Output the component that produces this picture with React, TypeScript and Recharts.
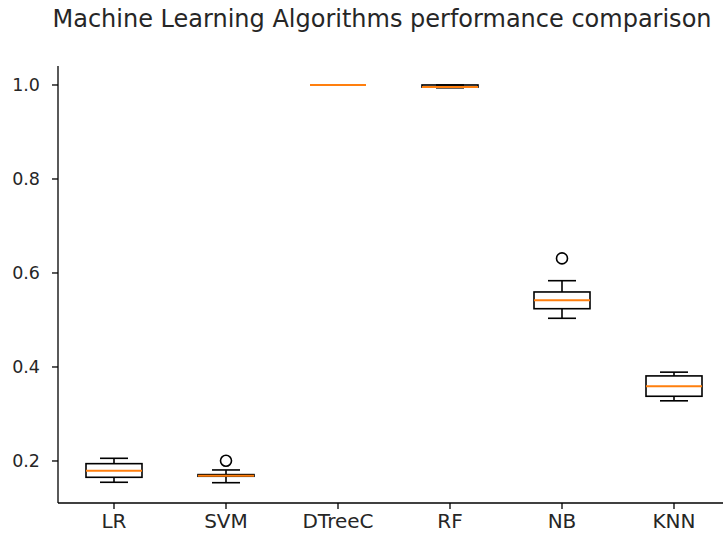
import React from "react"
import { ComposedChart, Bar, Scatter, XAxis, YAxis } from "recharts"

// box stats per algorithm
const algorithms = ["LR", "SVM", "DTreeC", "RF", "NB", "KNN"]
const whiskerLow = [0.1547, 0.1538, 1.0, 0.994, 0.5036, 0.328]
const quartile1 = [0.1653, 0.1675, 1.0, 0.9955, 0.524, 0.3377]
const medians = [0.1794, 0.1685, 1.0, 0.9955, 0.542, 0.359]
const quartile3 = [0.1943, 0.171, 1.0, 1.0, 0.5596, 0.381]
const whiskerHigh = [0.2057, 0.1809, 1.0, 1.0, 0.5836, 0.389]

const outlierNames = ["SVM", "NB"]
const outlierValues = [0.2006, 0.631]

const yTicks = [0.2, 0.4, 0.6, 0.8, 1.0]
const yDomain = [0.1106, 1.0404]

const title = "Machine Learning Algorithms performance comparison"

const data = algorithms.map((name, i) => ({
  name,
  wLow: whiskerLow[i],
  q1: quartile1[i],
  median: medians[i],
  q3: quartile3[i],
  wHigh: whiskerHigh[i],
  whisker: [whiskerLow[i], whiskerHigh[i]],
  box: [quartile1[i], quartile3[i]],
}))

const outliers = outlierNames.map((name, i) => ({ name, value: outlierValues[i] }))

const FONT = "'DejaVu Sans', sans-serif"
const LINE = "#000"
const ORANGE = "#ff7f0e"

const WhiskerShape = (props: any) => {
  const { x, y, width, height } = props
  const cx = x + width / 2
  const top = Math.min(y, y + height)
  const bottom = Math.max(y, y + height)
  return <line x1={cx} x2={cx} y1={top} y2={bottom} stroke={LINE} strokeWidth={1.6} />
}

const BoxShape = (props: any) => {
  const { x, y, width, height } = props
  const top = Math.min(y, y + height)
  const h = Math.abs(height)
  return <rect x={x} y={top} width={width} height={h} fill="#fff" stroke={LINE} strokeWidth={1.6} />
}

const CapShape = (props: any) => {
  const { cx, cy } = props
  return <line x1={cx - 14} x2={cx + 14} y1={cy} y2={cy} stroke={LINE} strokeWidth={1.6} />
}

const MedianShape = (props: any) => {
  const { cx, cy } = props
  return <line x1={cx - 28} x2={cx + 28} y1={cy} y2={cy} stroke={ORANGE} strokeWidth={2} />
}

const OutlierShape = (props: any) => {
  const { cx, cy } = props
  return <circle cx={cx} cy={cy} r={5.5} fill="none" stroke={LINE} strokeWidth={1.6} />
}

export default function App() {
  return (
    <div style={{ position: "relative", width: 723, height: 537 }}>
      <style>{"body{margin:0}"}</style>
      <div
        style={{
          position: "absolute",
          left: 0,
          top: 5,
          width: 764,
          textAlign: "center",
          fontFamily: FONT,
          fontSize: 24,
          color: "#262626",
        }}
      >
        {title}
      </div>
      <ComposedChart
        width={723}
        height={537}
        data={data}
        margin={{ top: 66, right: -7, left: 0, bottom: 0 }}
      >
        <XAxis
          dataKey="name"
          type="category"
          allowDuplicatedCategory={false}
          height={34}
          tickSize={6}
          tickMargin={5}
          axisLine={{ stroke: LINE, strokeWidth: 1.3 }}
          tickLine={{ stroke: LINE, strokeWidth: 1.3 }}
          tick={{ fontSize: 20, fontFamily: FONT, fill: "#262626" }}
        />
        <XAxis
          xAxisId="top"
          dataKey="name"
          type="category"
          orientation="top"
          height={0}
          tick={false}
          tickLine={false}
          axisLine={{ stroke: LINE, strokeWidth: 1.3 }}
        />
        <YAxis
          type="number"
          domain={yDomain}
          ticks={yTicks}
          allowDataOverflow
          width={58}
          tickSize={6}
          tickMargin={12}
          tickFormatter={(v: number) => v.toFixed(1)}
          axisLine={{ stroke: LINE, strokeWidth: 1.3 }}
          tickLine={{ stroke: LINE, strokeWidth: 1.3 }}
          tick={{ fontSize: 17.5, fontFamily: FONT, fill: "#262626" }}
        />
        <Bar xAxisId="top" dataKey="whisker" barSize={56} shape={WhiskerShape} isAnimationActive={false} />
        <Bar dataKey="box" barSize={56} shape={BoxShape} isAnimationActive={false} />
        <Scatter dataKey="wLow" shape={CapShape} isAnimationActive={false} />
        <Scatter dataKey="wHigh" shape={CapShape} isAnimationActive={false} />
        <Scatter data={outliers} dataKey="value" shape={OutlierShape} isAnimationActive={false} />
        <Scatter dataKey="median" shape={MedianShape} isAnimationActive={false} />
      </ComposedChart>
    </div>
  )
}
